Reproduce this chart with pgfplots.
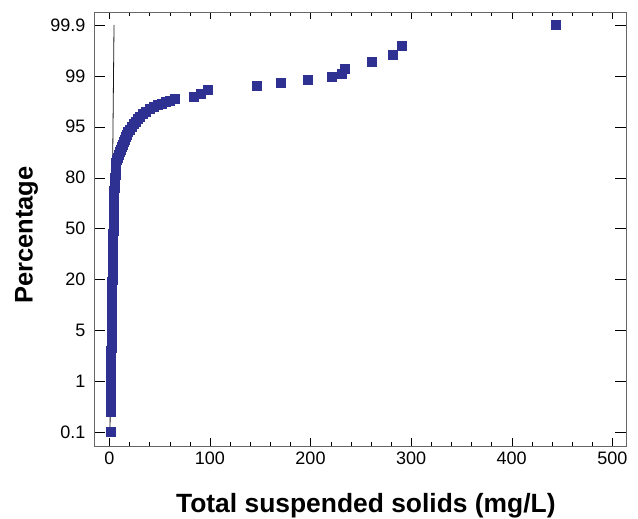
\documentclass[border=0pt]{standalone}
\usepackage{pgfplots}
\pgfplotsset{compat=1.18}
\usepackage{fontspec}
\setmainfont{Liberation Sans}
\definecolor{mk}{RGB}{46,49,146}
\begin{document}
\begin{tikzpicture}
\path[use as bounding box] (-94pt,-73pt) rectangle (544pt,446pt);
\begin{axis}[
  at={(0,0)}, anchor=south west,
  scale only axis, width=532pt, height=434pt,
  xmin=-15.2, xmax=513.6, ymin=-0.275, ymax=8.255,
  xtick={0,100,200,300,400,500},
  xticklabels={0,100,200,300,400,500},
  minor x tick num=4,
  ytick={0,1,2,3,4,5,6,7,8},
  yticklabels={0.1,1,5,20,50,80,95,99,99.9},
  tick align=inside,
  axis line style={black!60},
  xtick style={black, /pgfplots/major tick length=7.5pt, /pgfplots/minor tick length=4pt},
  ytick style={black, /pgfplots/major tick length=11pt},
  ticklabel style={font=\fontsize{18}{20}\selectfont},
  xticklabel style={yshift=-2pt},
  yticklabel style={xshift=-5pt},
  xlabel={Total suspended solids (mg/L)},
  ylabel={Percentage},
  xlabel style={font=\fontsize{26.4}{30}\selectfont\bfseries, at={(axis description cs:0.511,-0.138)}, anchor=center},
  ylabel style={font=\fontsize{25.5}{30}\selectfont\bfseries, at={(axis description cs:-0.127,0.486)}, anchor=center},
  clip=false,
]
\addplot[only marks, mark=square*, mark size=4.5pt, mark options={draw=mk, fill=mk}] coordinates {
(1,0)
(1,0.40)(1,0.45)(1,0.50)(1,0.55)(1,0.60)(1,0.65)(1,0.70)(1,0.75)(1,0.80)(1,0.85)
(1,0.90)(1,0.95)(1,1.00)(1,1.05)(1,1.10)(1,1.15)(1,1.20)(1,1.25)(1,1.30)(1,1.35)
(1,1.40)(1,1.45)(1,1.50)(1,1.55)(1,1.60)
(2,1.65)(2,1.70)(2,1.75)(2,1.80)(2,1.85)(2,1.90)(2,1.95)(2,2.00)(2,2.05)(2,2.10)
(2,2.15)(2,2.20)(2,2.25)(2,2.30)(2,2.35)(2,2.40)(2,2.45)(2,2.50)(2,2.55)(2,2.60)
(2,2.65)(2,2.70)(2,2.75)(2,2.80)(2,2.85)(2,2.90)(2,2.95)
(3,3.00)(3,3.05)(3,3.10)(3,3.15)(3,3.20)(3,3.25)(3,3.30)(3,3.35)(3,3.40)(3,3.45)
(3,3.50)(3,3.55)(3,3.60)(3,3.65)(3,3.70)(3,3.75)(3,3.80)(3,3.85)(3,3.90)
(4,3.95)(4,4.00)(4,4.05)(4,4.10)(4,4.15)(4,4.20)(4,4.25)(4,4.30)(4,4.35)(4,4.40)
(4,4.45)(4,4.50)(4,4.55)(4,4.60)(4,4.65)(4,4.70)(4,4.75)
(5,4.80)(5,4.85)(5,4.90)(5,4.95)(5,5.00)
(6,5.05)(6,5.10)(6,5.15)(6,5.20)(6,5.25)(6,5.30)
(7,5.35)(8,5.40)(9,5.45)(10,5.50)(11,5.55)(12,5.60)(13,5.65)(14,5.70)(15,5.75)
(16,5.80)(17,5.85)(18,5.90)(20,5.95)(22,6.00)(24,6.05)(26,6.10)(28,6.15)(30,6.20)
(33,6.25)(36,6.30)(40,6.35)(44,6.40)(48,6.43)(52,6.46)(56,6.49)(60,6.52)(65,6.55)
(84,6.59)(90.6,6.64)(97.9,6.72)
(147,6.80)(170.6,6.86)(197,6.92)(220.8,6.98)(231.4,7.05)(234.4,7.14)
(261.3,7.27)(281.5,7.42)(290.8,7.60)(444,8.0)
};
\addplot[black!90, line width=0.8pt] coordinates {(0.7,-0.02) (4.7,8.0)};
\end{axis}
\end{tikzpicture}
\end{document}
